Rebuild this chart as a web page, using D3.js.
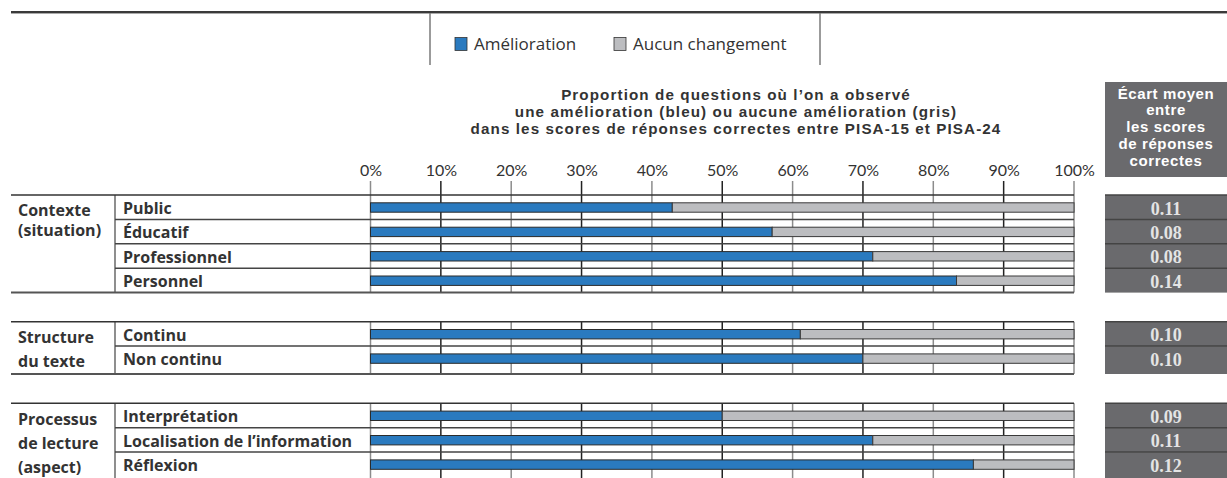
<!DOCTYPE html>
<html><head><meta charset="utf-8">
<script src="https://cdn.jsdelivr.net/npm/d3@7"></script>
<style>body{margin:0;background:#fff} svg{display:block}</style>
</head><body><svg id="c" width="1227" height="478"></svg>
<script>
// ---- data ----
const groupLabels = [["Contexte", "(situation)"], ["Structure", "du texte"], ["Processus", "de lecture", "(aspect)"]];
const categories = ["Public", "Éducatif", "Professionnel", "Personnel", "Continu", "Non continu", "Interprétation", "Localisation de l’information", "Réflexion"];
const categoryGroup = [0, 0, 0, 0, 1, 1, 2, 2, 2];
const improvement = [42.9, 57.1, 71.4, 83.3, 61.1, 70.0, 50.0, 71.4, 85.7];
const noChange = [57.1, 42.9, 28.6, 16.7, 38.9, 30.0, 50.0, 28.6, 14.3];
const meanGap = [0.11, 0.08, 0.08, 0.14, 0.10, 0.10, 0.09, 0.11, 0.12];
const tickValues = [0, 10, 20, 30, 40, 50, 60, 70, 80, 90, 100];
const seriesNames = ["Amélioration", "Aucun changement"];
const headerLines = ["Proportion de questions où l’on a observé", "une amélioration (bleu) ou aucune amélioration (gris)", "dans les scores de réponses correctes entre PISA-15 et PISA-24"];
const gapHeader = ["Écart moyen", "entre", "les scores", "de réponses", "correctes"];

// ---- layout ----
const FONT = "'Open Sans', Lato, sans-serif";
const TFONT = "Lato, 'Open Sans', sans-serif";
const HFONT = "'Liberation Sans', Arial, sans-serif";
const BLUE = "#2a7abf", GREY = "#bcbdc0", BOXC = "#6a6a6d";
const svg = d3.select("#c");
const x = d3.scaleLinear().domain([0, 100]).range([370.5, 1074]);
const groupTop = [195, 321.7, 403.3];
const groupExtra = [0, 3.5, 3.5];
const rowH = 24.4;
const groupCount = [0, 1, 2].map(g => categoryGroup.filter(c => c === g).length);
const groupBottom = groupTop.map((t, g) => t + groupCount[g] * rowH + groupExtra[g]);
const idxInGroup = categoryGroup.map((g, i) => categoryGroup.slice(0, i).filter(c => c === g).length);
const rowTop = i => groupTop[categoryGroup[i]] + idxInGroup[i] * rowH;
const rowBottom = i => (idxInGroup[i] === groupCount[categoryGroup[i]] - 1) ? groupBottom[categoryGroup[i]] : rowTop(i) + rowH;

// top rule
svg.append("line").attr("x1", 11).attr("x2", 1227).attr("y1", 12).attr("y2", 12).attr("stroke", "#3a3a3a").attr("stroke-width", 2);
svg.append("line").attr("x1", 11).attr("x2", 1227).attr("y1", 13.5).attr("y2", 13.5).attr("stroke", "#aaa").attr("stroke-width", 1);

// legend frame
[430, 820].forEach(xx => svg.append("line").attr("x1", xx).attr("x2", xx).attr("y1", 13).attr("y2", 65).attr("stroke", "#7a7a7a").attr("stroke-width", 1.5));
const legend = svg.append("g").attr("transform", "translate(455,44)");
const legX = [0, 159];
seriesNames.forEach((s, i) => {
  const g = legend.append("g").attr("transform", `translate(${legX[i]},0)`);
  g.append("rect").attr("x", 0).attr("y", -6.5).attr("width", 12).attr("height", 13).attr("fill", i ? GREY : BLUE).attr("stroke", "#333").attr("stroke-width", 0.8);
  g.append("text").attr("x", 19).attr("y", 6).attr("font-family", FONT).attr("font-size", 17).attr("fill", "#333").text(s);
});

// header
svg.append("g").selectAll("text").data(headerLines).join("text")
  .attr("x", 736).attr("y", (d, i) => 99.5 + i * 17)
  .attr("text-anchor", "middle").attr("font-family", HFONT).attr("font-weight", "bold")
  .attr("font-size", 15.2).attr("letter-spacing", 1.1).attr("fill", "#333").text(d => d);

// gap header box
svg.append("rect").attr("x", 1105).attr("y", 82).attr("width", 122).attr("height", 95).attr("fill", BOXC);
svg.append("g").selectAll("text").data(gapHeader).join("text")
  .attr("x", 1166).attr("y", (d, i) => 98.5 + i * 16.9)
  .attr("text-anchor", "middle").attr("font-family", HFONT).attr("font-weight", "bold")
  .attr("font-size", 15).attr("letter-spacing", 0.6).attr("fill", "#fff").text(d => d);

// axis labels
const axis = d3.axisTop(x).tickValues(tickValues).tickFormat(d => d + "%").tickSize(0).tickPadding(0);
const ax = svg.append("g").attr("transform", "translate(0,176)").call(axis);
ax.select(".domain").remove();
ax.selectAll("text").attr("font-family", TFONT).attr("font-size", 16).attr("fill", "#333");

// gridlines per group
[0, 1, 2].forEach(g => {
  const y1 = g === 0 ? 181 : groupTop[g];
  svg.append("g").selectAll("line").data(tickValues).join("line")
    .attr("x1", d => x(d)).attr("x2", d => x(d))
    .attr("y1", y1).attr("y2", groupBottom[g])
    .attr("stroke", d => (d / 10) % 2 ? "#222" : "#8c8c8c").attr("stroke-width", 1.5);
  svg.append("line").attr("x1", 115).attr("x2", 115).attr("y1", groupTop[g]).attr("y2", groupBottom[g]).attr("stroke", "#444").attr("stroke-width", 1.2);
  svg.append("line").attr("x1", 11).attr("x2", x(100)).attr("y1", groupTop[g]).attr("y2", groupTop[g]).attr("stroke", "#333").attr("stroke-width", 1.5);
  svg.append("line").attr("x1", 11).attr("x2", x(100)).attr("y1", groupBottom[g]).attr("y2", groupBottom[g]).attr("stroke", "#555").attr("stroke-width", 2);
  svg.append("g").selectAll("text").data(groupLabels[g]).join("text")
    .attr("x", 18).attr("y", (d, i) => groupTop[g] + (g === 0 ? 21 : 21.5) + i * (g === 0 ? 20 : 24))
    .attr("font-family", FONT).attr("font-weight", "bold").attr("font-size", 16).attr("fill", "#333").text(d => d);
});

// row separators
const seps = categories.map((c, i) => i).filter(i => idxInGroup[i] > 0);
svg.append("g").selectAll("line").data(seps).join("line")
  .attr("x1", 115).attr("x2", x(100)).attr("y1", i => rowTop(i)).attr("y2", i => rowTop(i))
  .attr("stroke", "#444").attr("stroke-width", 1.5);

// category labels
svg.append("g").selectAll("text").data(categories).join("text")
  .attr("x", 123).attr("y", (d, i) => rowTop(i) + 19)
  .attr("font-family", FONT).attr("font-weight", "bold").attr("font-size", 16).attr("fill", "#333").text(d => d);

// bars
const barOff = 7.8, barH = 9.4;
const bars = svg.append("g");
categories.forEach((c, i) => {
  const y0 = rowTop(i) + barOff;
  bars.append("rect").attr("x", x(0)).attr("y", y0).attr("width", x(improvement[i]) - x(0)).attr("height", barH)
    .attr("fill", BLUE).attr("stroke", "#2b2b2b").attr("stroke-width", 1);
  bars.append("rect").attr("x", x(improvement[i])).attr("y", y0).attr("width", x(improvement[i] + noChange[i]) - x(improvement[i])).attr("height", barH)
    .attr("fill", GREY).attr("stroke", "#3a3a3a").attr("stroke-width", 1);
});

// mean gap boxes
const fmt = d3.format(".2f");
categories.forEach((c, i) => {
  svg.append("rect").attr("x", 1105).attr("y", rowTop(i)).attr("width", 122).attr("height", rowBottom(i) - rowTop(i)).attr("fill", BOXC);
  if (idxInGroup[i] > 0) svg.append("line").attr("x1", 1105).attr("x2", 1227).attr("y1", rowTop(i)).attr("y2", rowTop(i)).attr("stroke", "#444").attr("stroke-width", 1.5);
  svg.append("text").attr("x", 1166).attr("y", rowTop(i) + 19.5).attr("text-anchor", "middle")
    .attr("font-family", "'Liberation Serif', 'DejaVu Serif', serif").attr("font-weight", "bold").attr("font-size", 18)
    .attr("fill", "#e4e4e4").text(fmt(meanGap[i]));
});
[0, 1, 2].forEach(g => svg.append("line").attr("x1", 1105).attr("x2", 1227).attr("y1", groupTop[g]).attr("y2", groupTop[g]).attr("stroke", "#444").attr("stroke-width", 1.5));
</script></body></html>
